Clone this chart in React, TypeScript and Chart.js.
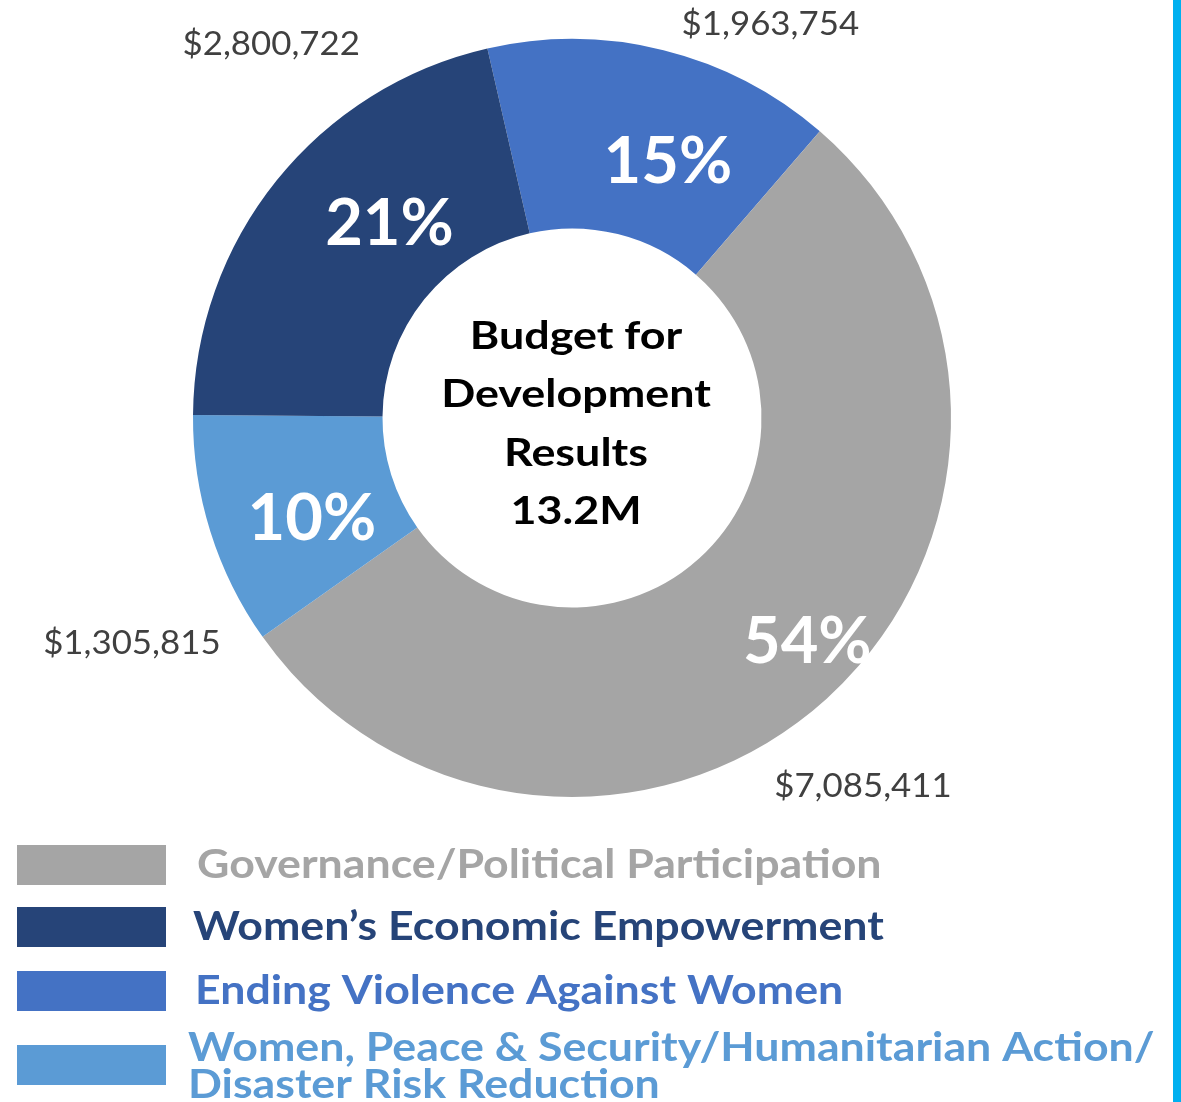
import { useEffect, useRef } from "react";
import { Chart, registerables } from "chart.js";

Chart.register(...registerables);

// ---- data (drawing order, clockwise from the top) ----
const categories = [
  "Ending Violence Against Women",
  "Governance/Political Participation",
  "Women, Peace & Security/Humanitarian Action/ Disaster Risk Reduction",
  "Women’s Economic Empowerment",
];
const budgetValues = [1963754, 7085411, 1305815, 2800722];
const centerTitle = ["Budget for", "Development", "Results"];
const legendOrder = [1, 3, 0, 2];
const legendLines = [
  ["Ending Violence Against Women"],
  ["Governance/Political Participation"],
  ["Women, Peace & Security/Humanitarian Action/", "Disaster Risk Reduction"],
  ["Women’s Economic Empowerment"],
];

// ---- styles / layout ----
const colors = ["#4472C4", "#A5A5A5", "#5B9BD5", "#264478"];
const pctShiftDeg = [6.6, -4.2, -3.75, 7.9];
const pctRadius = [0.72, 0.857, 0.736, 0.702];
const valShiftDeg = [12.75, 3.9, -9.65, 12.4];
const valRadius = [1.164, 1.238, 1.304, 1.266];
const FONT = "Lato, 'Open Sans', sans-serif";

function fillScaled(ctx: CanvasRenderingContext2D, text: string, x: number, y: number, sx: number) {
  ctx.save();
  ctx.translate(x, y);
  ctx.scale(sx, 1);
  ctx.fillText(text, 0, 0);
  ctx.restore();
}

const labelPlugin = {
  id: "customLabels",
  afterDatasetsDraw(chart: any) {
    const ctx: CanvasRenderingContext2D = chart.ctx;
    const meta = chart.getDatasetMeta(0);
    const total = budgetValues.reduce((a, b) => a + b, 0);
    let cx = 0;
    let cy = 0;
    meta.data.forEach((arc: any, i: number) => {
      const p = arc.getProps(["x", "y", "startAngle", "endAngle", "outerRadius"], true);
      cx = p.x;
      cy = p.y;
      const mid = (p.startAngle + p.endAngle) / 2;
      // percentage inside
      const a1 = mid + (pctShiftDeg[i] * Math.PI) / 180;
      const r1 = p.outerRadius * pctRadius[i];
      ctx.save();
      ctx.fillStyle = "#FFFFFF";
      ctx.font = `bold 65px ${FONT}`;
      ctx.textAlign = "center";
      ctx.textBaseline = "middle";
      const pct = Math.round((budgetValues[i] / total) * 100) + "%";
      fillScaled(ctx, pct, p.x + Math.cos(a1) * r1, p.y + Math.sin(a1) * r1, 1);
      // value outside
      const a2 = mid + (valShiftDeg[i] * Math.PI) / 180;
      const r2 = p.outerRadius * valRadius[i];
      ctx.fillStyle = "#404040";
      ctx.font = `33.5px ${FONT}`;
      const val = "$" + budgetValues[i].toLocaleString("en-US");
      fillScaled(ctx, val, p.x + Math.cos(a2) * r2, p.y + Math.sin(a2) * r2, 1.04);
      ctx.restore();
    });

    // center text
    ctx.save();
    ctx.fillStyle = "#000000";
    ctx.font = `bold 39px ${FONT}`;
    ctx.textAlign = "center";
    ctx.textBaseline = "alphabetic";
    const lines = [...centerTitle, (total / 1e6).toFixed(1) + "M"];
    lines.forEach((t, k) => {
      fillScaled(ctx, t, cx + 4, cy - 69 + k * 58.3, 1.15);
    });
    ctx.restore();

    // legend
    const boxTops = [845, 907, 971, 1045];
    const textX = [197, 193, 195, 188];
    ctx.save();
    legendOrder.forEach((idx, k) => {
      ctx.fillStyle = colors[idx];
      ctx.fillRect(17, boxTops[k], 149, 40);
      ctx.font = `bold 41px ${FONT}`;
      ctx.textAlign = "left";
      ctx.textBaseline = "middle";
      const ls = legendLines[idx];
      const sx = 1.09;
      if (ls.length === 1) {
        fillScaled(ctx, ls[0], textX[k], boxTops[k] + 20, sx);
      } else {
        fillScaled(ctx, ls[0], textX[k], boxTops[k] + 3, sx);
        fillScaled(ctx, ls[1], textX[k], boxTops[k] + 40, sx);
      }
    });
    ctx.restore();
  },
};

export default function App() {
  const ref = useRef<HTMLCanvasElement | null>(null);
  useEffect(() => {
    if (!ref.current) return;
    const chart = new Chart(ref.current, {
      type: "doughnut",
      data: {
        labels: categories,
        datasets: [
          {
            data: budgetValues,
            backgroundColor: colors,
            borderWidth: 0,
            hoverOffset: 0,
          },
        ],
      },
      options: {
        animation: false,
        responsive: true,
        maintainAspectRatio: false,
        rotation: -12.9,
        cutout: "50%",
        layout: { padding: { left: 193, right: 230, top: 39, bottom: 305 } },
        plugins: {
          legend: { display: false },
          tooltip: { enabled: false },
          title: { display: false },
        },
        events: [],
      },
      plugins: [labelPlugin],
    });
    return () => chart.destroy();
  }, []);
  return (
    <div style={{ position: "absolute", left: 0, top: 0, width: 1181, height: 1102, background: "#fff", overflow: "hidden" }}>
      <canvas ref={ref} />
      <div style={{ position: "absolute", left: 1173, top: 0, width: 8, height: 1102, background: "#00B0F0" }} />
    </div>
  );
}
